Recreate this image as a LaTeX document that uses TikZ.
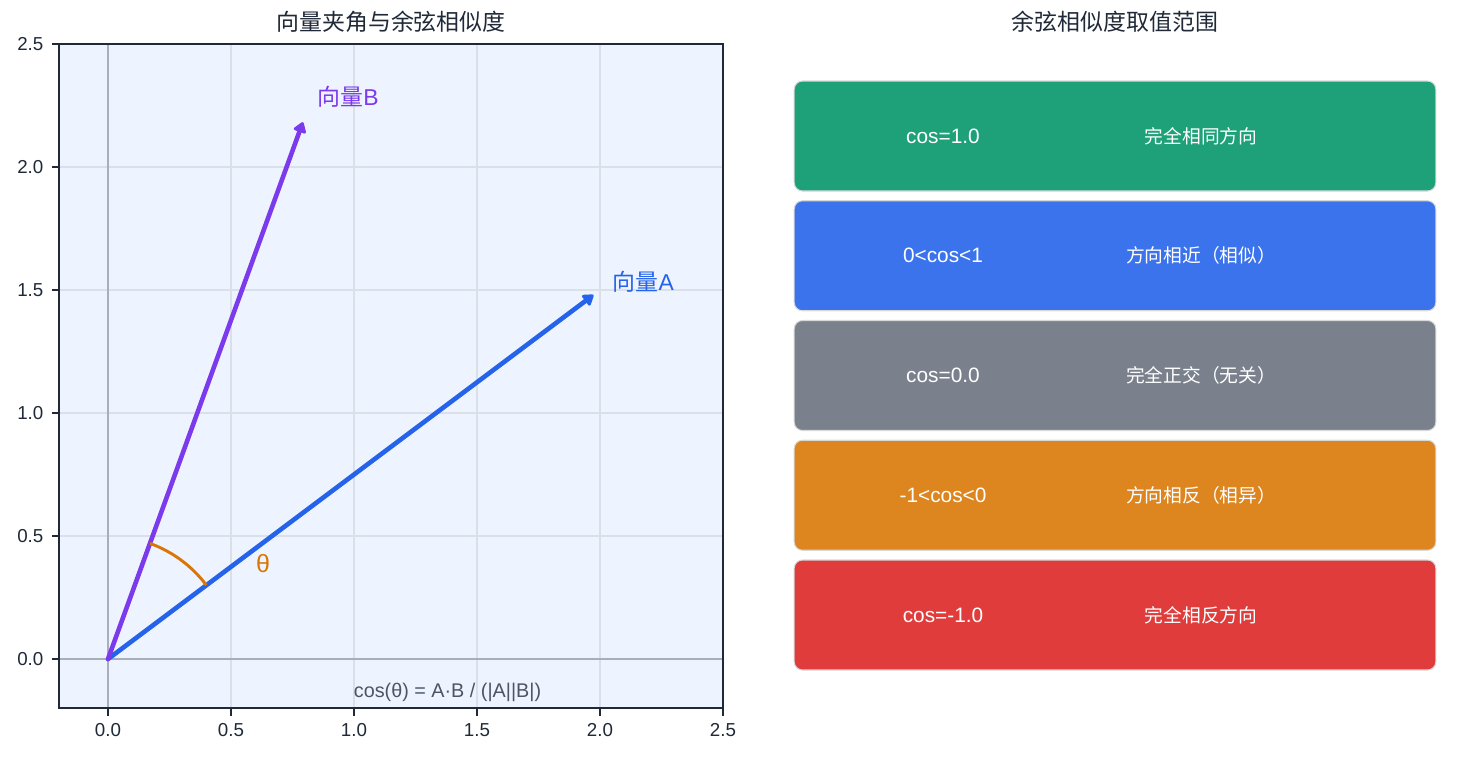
\documentclass[tikz,border=0pt]{standalone}
\usepackage{fontspec}
\setmainfont{Liberation Sans}
\newfontfamily\cjk{Noto Sans CJK SC}
\usetikzlibrary{arrows.meta}
\definecolor{ink}{HTML}{1F2937}
\definecolor{plotbg}{HTML}{EEF4FF}
\definecolor{gridc}{HTML}{DADFE8}
\definecolor{zeroc}{HTML}{A8AFBB}
\definecolor{vecA}{HTML}{2563EB}
\definecolor{vecB}{HTML}{7C3AED}
\definecolor{angc}{HTML}{D97706}
\definecolor{formc}{HTML}{4B5563}
\definecolor{same}{HTML}{1EA178}
\definecolor{near}{HTML}{3B73ED}
\definecolor{orth}{HTML}{7A818D}
\definecolor{oppo}{HTML}{DD851F}
\definecolor{anti}{HTML}{E03C3C}

\begin{document}
\begin{tikzpicture}[
    x=0.48pt, y=-0.48pt,
    title/.style={font=\cjk\fontsize{11}{13}\selectfont,text=ink},
    ticklbl/.style={font=\fontsize{9}{11}\selectfont,text=ink,inner sep=0pt},
    gridline/.style={draw=gridc,line width=0.6pt},
    zeroline/.style={draw=zeroc,line width=0.6pt},
    frame/.style={draw=ink,line width=0.8pt},
    vec/.style={line width=2.2pt,line cap=round,-{Triangle[length=5.5pt,width=7pt,round]},shorten >=1pt},
    vlabel/.style={anchor=base west,inner sep=0pt,font=\fontsize{11}{13}\selectfont},
    band/.style={draw=white!85!black,line width=0.5pt,rounded corners=4pt,
      minimum width=308pt,minimum height=52.8pt,inner sep=0pt},
    bandtxt/.style={text=white,inner sep=0pt}]
  \useasboundingbox (0,0) rectangle (1473,757);
  \node[title] (ttlL) at (391,22) {向量夹角与余弦相似度};
  \node[title] (ttlR) at (1115,22) {余弦相似度取值范围};
  \begin{scope}[shift={(108,659)},x=118.08pt,y=118.08pt]
    \fill[plotbg] (-0.2,-0.2) rectangle (2.5,2.5);
    \foreach \v in {0.5,1.0,1.5,2.0} {
      \draw[gridline] (\v,-0.2) -- (\v,2.5);
      \draw[gridline] (-0.2,\v) -- (2.5,\v);
    }
    \draw[zeroline] (0,-0.2) -- (0,2.5);
    \draw[zeroline] (-0.2,0) -- (2.5,0);
    \coordinate (O) at (0,0);
    \coordinate (A) at (1.98,1.485);
    \coordinate (B) at (0.795,2.19);
    \draw[vec,vecA] (O) -- (A);
    \draw[vec,vecB] (O) -- (B);
    \draw[angc,line width=1.4pt] ([shift={(36.87:0.5)}]O) arc[start angle=36.87,end angle=70.02,radius=0.5];
    \node[vlabel,text=vecA] (labA) at (2.05,1.5) {{\cjk 向量}A};
    \node[vlabel,text=vecB] (labB) at (0.85,2.25) {{\cjk 向量}B};
    \node[vlabel,text=angc,font=\fontsize{12}{14}\selectfont] (theta) at (0.6,0.35) {θ};
    \node[anchor=base,inner sep=0pt,text=formc,font=\fontsize{9.5}{11}\selectfont] (formula) at (1.38,-0.155) {cos(θ) = A·B / (|A||B|)};
    \draw[frame] (-0.2,-0.2) rectangle (2.5,2.5);
    \foreach \v [count=\i] in {0.0,0.5,1.0,1.5,2.0,2.5} {
      \draw[frame] (\v,-0.2) -- ++(0,-3.5pt) node[ticklbl,below=3.5pt] (xt\i) {\v};
      \draw[frame] (-0.2,\v) -- ++(-3.5pt,0) node[ticklbl,left=3.5pt] (yt\i) {\v};
    }
  \end{scope}
  \foreach \c/\lo/\hi [count=\i] in {same/cos=1.0/完全相同方向,near/0<cos<1/方向相近（相似）,
      orth/cos=0.0/完全正交（无关）,oppo/-1<cos<0/方向相反（相异）,anti/cos=-1.0/完全相反方向} {
    \pgfmathsetmacro{\yy}{136+119.75*(\i-1)}
    \node[band,fill=\c] (band\i) at (1115,\yy) {};
    \node[bandtxt,font=\fontsize{10}{12}\selectfont] (lo\i) at (943,\yy) {\lo};
    \node[bandtxt,font=\cjk\fontsize{9}{11}\selectfont] (hi\i) at (1201,\yy) {\hi};
  }
\end{tikzpicture}
\end{document}
